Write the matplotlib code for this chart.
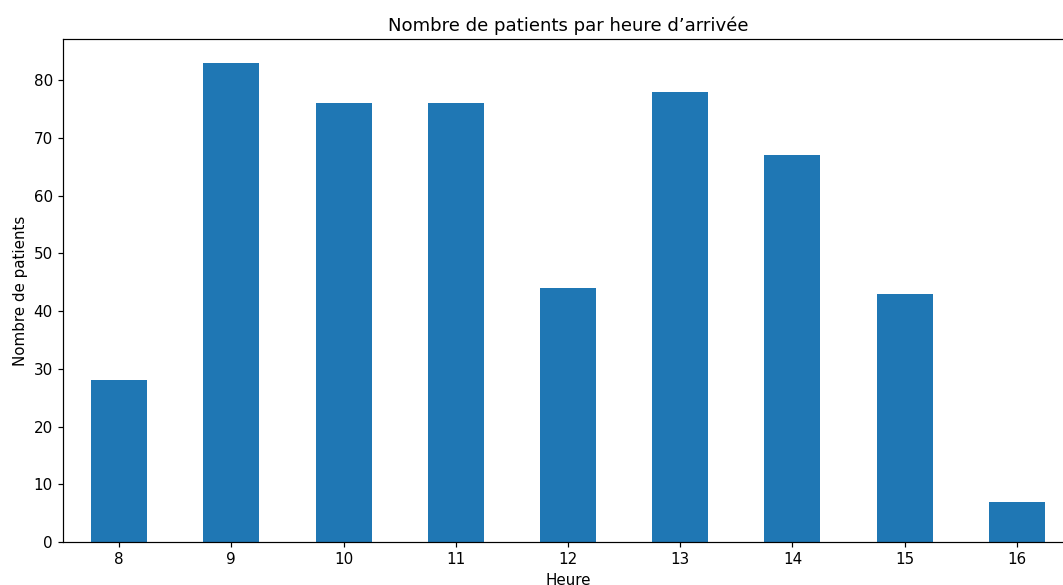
import matplotlib
matplotlib.use("Agg")
import matplotlib.pyplot as plt

# patient counts by arrival hour
heures = [8, 9, 10, 11, 12, 13, 14, 15, 16]
patients = [28, 83, 76, 76, 44, 78, 67, 43, 7]

k = 1.086  # scale factor for fonts and lines
plt.rcParams['font.size'] = 10 * k
plt.rcParams['axes.linewidth'] = 0.8 * k
plt.rcParams['xtick.major.width'] = 0.8 * k
plt.rcParams['ytick.major.width'] = 0.8 * k
plt.rcParams['xtick.major.size'] = 3.5 * k
plt.rcParams['ytick.major.size'] = 3.5 * k

fig = plt.figure(figsize=(10.63, 5.85), dpi=100)
W, H = 1063, 585
ax = fig.add_axes([63 / W, (H - 542) / H, (1073 - 63) / W, (542 - 39) / H])

pos = list(range(len(heures)))
ax.bar(pos, patients, width=0.5, color='#1f77b4')
ax.set_xlim(-0.5, len(heures) - 0.5)
ax.set_ylim(0, max(patients) * 1.05)
ax.set_xticks(pos)
ax.set_xticklabels([str(h) for h in heures], rotation=0)

ax.set_title("Nombre de patients par heure d’arrivée", fontsize=12 * k)
ax.set_xlabel("Heure")
ax.set_ylabel("Nombre de patients")

fig.savefig("out.png", dpi=100)
